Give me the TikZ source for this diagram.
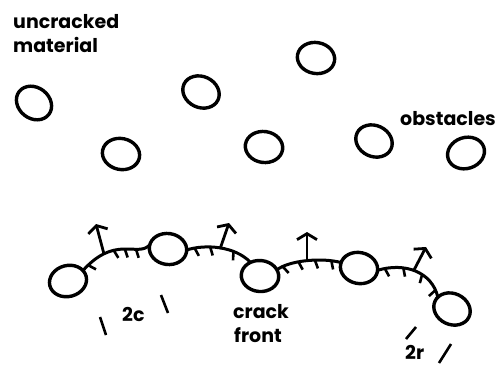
\documentclass[tikz,border=0pt]{standalone}
\usepackage{fontspec}
\setmainfont{Poppins}
\usetikzlibrary{shapes.geometric,arrows.meta,decorations.markings}
\newcommand\crtick{\draw[line width=2.6bp] (0pt,0pt) -- (2.8pt,-8.5pt);}
\begin{document}
\begin{tikzpicture}[x=1bp,y=-1bp,
  obs/.style={draw,ellipse,line width=3.4bp,minimum width=37.5bp,minimum height=31bp,inner sep=0pt,outer sep=0pt},
  front/.style={line width=3bp},
  arr/.style={line width=2.8bp,-{Straight Barb[length=6bp,width=20bp]}},
  lbl/.style={font=\bfseries\fontsize{19bp}{25bp}\selectfont,inner sep=0pt,anchor=base west},
  dimmark/.style={line width=2.6bp}]
\useasboundingbox (0,0) rectangle (503,367);
% obstacles ahead of the crack
\node[obs,rotate=-38] (o1) at (34,103) {};
\node[obs,rotate=-12] (o2) at (121,154) {};
\node[obs,rotate=-25] (o3) at (201,92) {};
\node[obs,rotate=-10] (o4) at (316,58) {};
\node[obs,rotate=-8] (o5) at (264,147) {};
\node[obs,rotate=-25] (o6) at (374,141) {};
\node[obs,rotate=18] (o7) at (466,153) {};
% pinning obstacles
\node[obs,rotate=15] (A) at (68,281) {};
\node[obs,rotate=-8] (B) at (168,249) {};
\node[obs,rotate=-5] (C) at (260,276) {};
\node[obs,rotate=-12] (D) at (359,268) {};
\node[obs,rotate=-25] (E) at (452,309) {};
% crack front segments
\draw[front,postaction={decorate},decoration={markings,
  mark=at position 0.1 with {\crtick}, mark=at position 0.5 with {\crtick},
  mark=at position 0.65 with {\crtick}, mark=at position 0.8 with {\crtick}}]
  (A.20) .. controls (97,255) and (110,249) .. (125,249) .. controls (137,249) and (144,251) .. (B.175);
\draw[front,postaction={decorate},decoration={markings,
  mark=at position 0.12 with {\crtick}, mark=at position 0.35 with {\crtick},
  mark=at position 0.7 with {\crtick}}]
  (B.5) .. controls (205,244) and (235,246) .. (C.130);
\draw[front,postaction={decorate},decoration={markings,
  mark=at position 0.1 with {\crtick}, mark=at position 0.35 with {\crtick},
  mark=at position 0.6 with {\crtick}, mark=at position 0.85 with {\crtick}}]
  (C.25) .. controls (288,261) and (320,257) .. (D.175);
\draw[front,postaction={decorate},decoration={markings,
  mark=at position 0.1 with {\crtick}, mark=at position 0.35 with {\crtick},
  mark=at position 0.62 with {\crtick}, mark=at position 0.9 with {\crtick}}]
  (D.5) .. controls (405,262) and (432,272) .. (E.165);
% local growth directions
\coordinate (f1) at (104,254); \coordinate (h1) at (96,224);
\coordinate (f2) at (220,249); \coordinate (h2) at (229,223);
\coordinate (f3) at (307,261); \coordinate (h3) at (307,232);
\coordinate (f4) at (414,270); \coordinate (h4) at (426,247);
\draw[arr] (f1) -- (h1);
\draw[arr] (f2) -- (h2);
\draw[arr] (f3) -- (h3);
\draw[arr] (f4) -- (h4);
% labels
\node[lbl] (t1) at (13,28) {uncracked};
\node[lbl] (t2) at (13,52) {material};
\node[lbl] (t3) at (400,125) {obstacles};
\node[lbl] (t4) at (122,321) {2c};
\node[lbl] (t5) at (233,318) {crack};
\node[lbl] (t6) at (234,342) {front};
\node[lbl] (t7) at (405,359) {2r};
% spacing marks
\draw[dimmark] (100,317) -- (106,335);
\draw[dimmark] (161,295) -- (168,313);
\draw[dimmark] (406,339) -- (416,327);
\draw[dimmark] (439,363) -- (451,344);
\end{tikzpicture}
\end{document}
